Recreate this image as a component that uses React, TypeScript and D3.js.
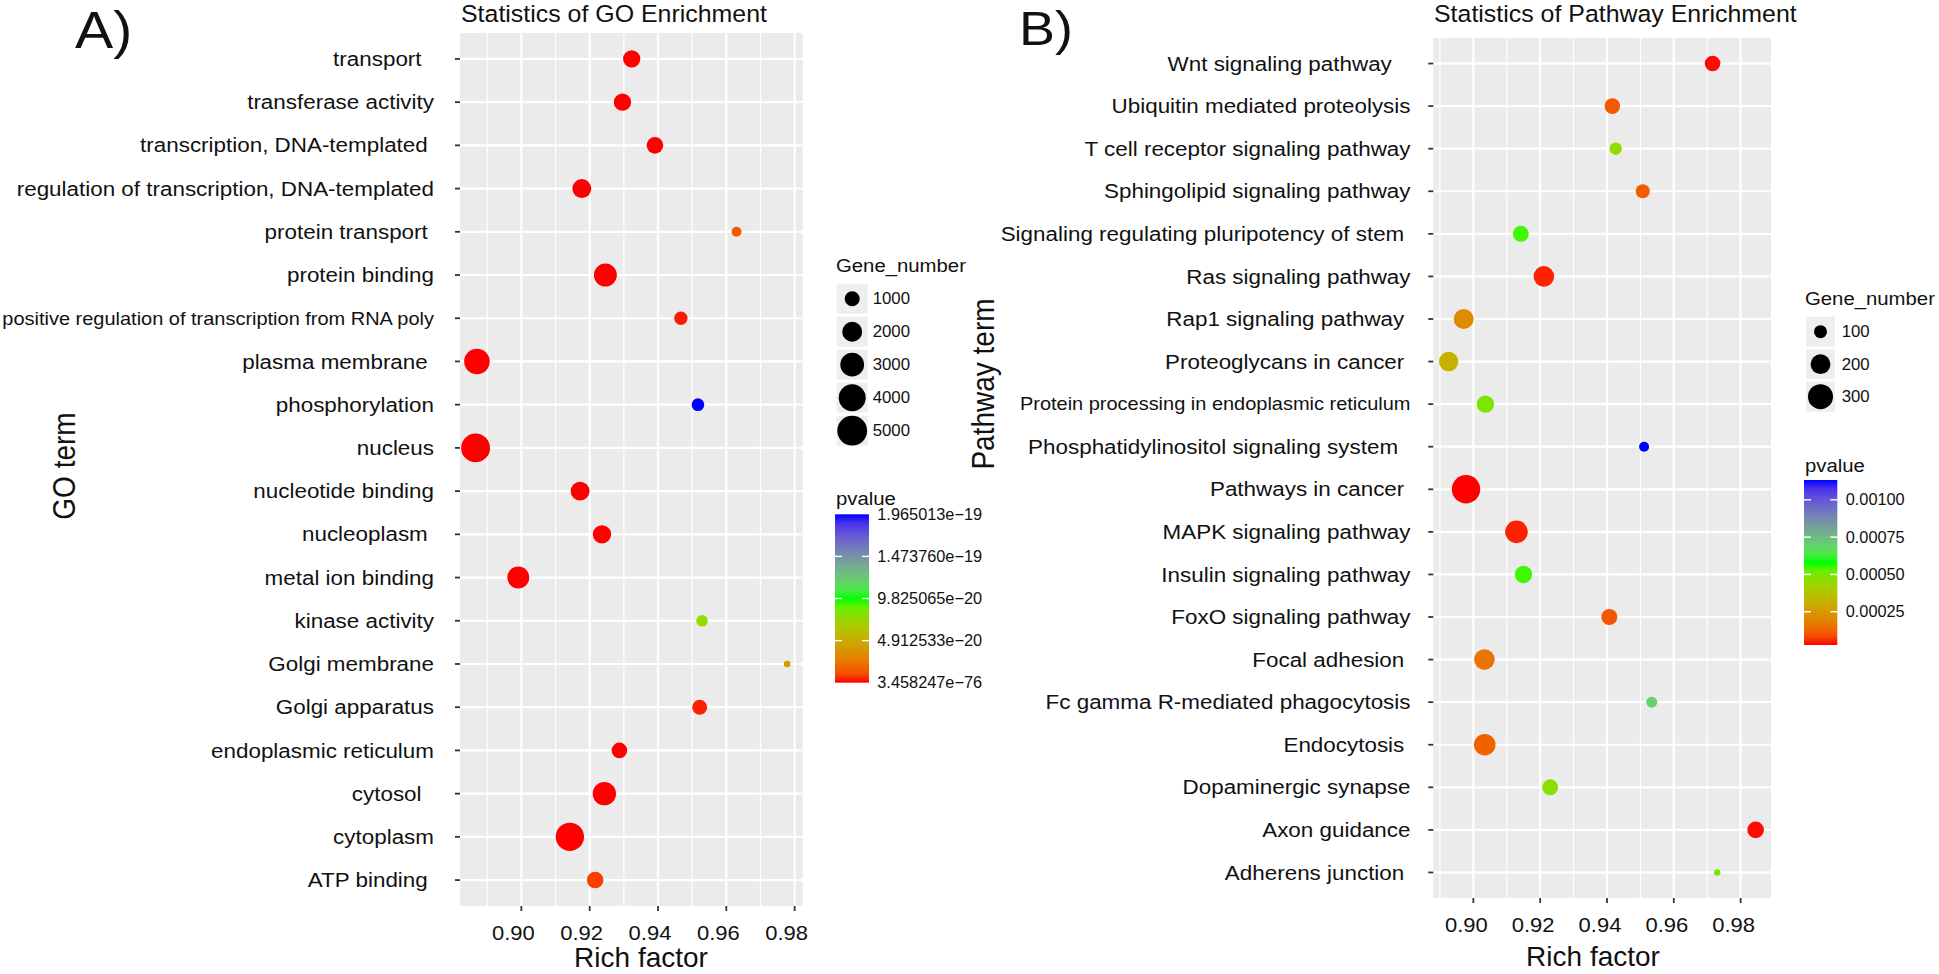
import React from 'react';
import * as d3 from 'd3';

// ---------------- Panel A: GO enrichment ----------------
const goTerms = [
  "transport  ", "transferase activity", "transcription, DNA-templated ",
  "regulation of transcription, DNA-templated", "protein transport ", "protein binding",
  "positive regulation of transcription from RNA poly", "plasma membrane ", "phosphorylation",
  "nucleus", "nucleotide binding", "nucleoplasm ", "metal ion binding", "kinase activity",
  "Golgi membrane", "Golgi apparatus", "endoplasmic reticulum", "cytosol  ", "cytoplasm", "ATP binding ",
];
const goRichFactor = [
  0.9323, 0.9296, 0.9391, 0.9177, 0.9630, 0.9246, 0.9467, 0.8870, 0.9517, 0.8866,
  0.9172, 0.9236, 0.8991, 0.9529, 0.9778, 0.9522, 0.9287, 0.9243, 0.9142, 0.9216,
];
const goGeneNumber = [
  1420, 1420, 1280, 1770, 340, 2770, 740, 3540, 640, 4680,
  1770, 1640, 2500, 520, 90, 1000, 1100, 2880, 4470, 1280,
];
const goPvalue = [
  1e-40, 1e-35, 1e-45, 1e-50, 1.4e-20, 1e-60, 1.5e-21, 1e-70, 1.965013e-19, 3.458247e-76,
  1e-50, 1e-45, 1e-55, 7.5e-20, 4.3e-20, 2e-21, 1e-30, 1e-60, 1e-70, 7e-21,
];
const goSizeBreaks = [1000, 2000, 3000, 4000, 5000];
const goPvalueRange = [3.458247e-76, 1.965013e-19];
const goPvalueBreaks = [3.458247e-76, 4.912533e-20, 9.825065e-20, 1.47376e-19, 1.965013e-19];
const goPvalueLabels = ["3.458247e\u221276", "4.912533e\u221220", "9.825065e\u221220", "1.473760e\u221219", "1.965013e\u221219"];

// ---------------- Panel B: Pathway enrichment ----------------
const pwTerms = [
  "Wnt signaling pathway   ", "Ubiquitin mediated proteolysis", "T cell receptor signaling pathway",
  "Sphingolipid signaling pathway", "Signaling regulating pluripotency of stem ", "Ras signaling pathway",
  "Rap1 signaling pathway ", "Proteoglycans in cancer ", "Protein processing in endoplasmic reticulum",
  "Phosphatidylinositol signaling system  ", "Pathways in cancer ", "MAPK signaling pathway",
  "Insulin signaling pathway", "FoxO signaling pathway", "Focal adhesion ",
  "Fc gamma R-mediated phagocytosis", "Endocytosis ", "Dopaminergic synapse", "Axon guidance", "Adherens junction ",
];
const pwRichFactor = [
  0.9716, 0.9416, 0.9426, 0.9507, 0.9142, 0.9211, 0.8971, 0.8926, 0.9036, 0.9511,
  0.8978, 0.9129, 0.9150, 0.9407, 0.9033, 0.9534, 0.9034, 0.9230, 0.9845, 0.9730,
];
const pwGeneNumber = [
  134, 134, 93, 113, 140, 214, 204, 193, 161, 67,
  376, 251, 161, 140, 214, 77, 232, 140, 149, 36,
];
const pwPvalue = [
  0.00003, 0.000105, 0.00045, 0.00011, 0.00056, 0.00004, 0.00021, 0.00032, 0.00049, 0.001133,
  0.000027, 0.00004, 0.00056, 0.0001, 0.00016, 0.00069, 0.00012, 0.00047, 0.00003, 0.0005,
];
const pwSizeBreaks = [100, 200, 300];
const pwPvalueRange = [0.000027, 0.001133];
const pwPvalueBreaks = [0.00025, 0.0005, 0.00075, 0.001];
const pwPvalueLabels = ["0.00025", "0.00050", "0.00075", "0.00100"];

const xTicks = [0.9, 0.92, 0.94, 0.96, 0.98];
const xTickLabels = ["0.90", "0.92", "0.94", "0.96", "0.98"];
const smallLabels = [
  "positive regulation of transcription from RNA poly",
  "Protein processing in endoplasmic reticulum",
];

const FONT = '"Liberation Sans", Arial, Helvetica, sans-serif';
const INK = '#111111';

function T({ x, y, size, anchor = 'start', sx = 1.1, rot = false, dy, children, fill = INK }: any) {
  const tr = rot
    ? `translate(${x},${y}) rotate(-90) scale(1,${sx})`
    : `translate(${x},${y}) scale(${sx},1)`;
  return (
    <text transform={tr} fontSize={size} textAnchor={anchor} fill={fill} fontFamily={FONT} dy={dy} style={{ whiteSpace: 'pre' }}>
      {children}
    </text>
  );
}

function Panel({ L, id, terms, rf, gn, pv, sizeDomain, sizeRange, pRange, sizeBreaks, pBreaks, pLabels }: any) {
  const [lo, hi] = d3.extent(rf as number[]) as [number, number];
  const pad = (hi - lo) * 0.05;
  const x = d3.scaleLinear().domain([lo - pad, hi + pad]).range([L.left, L.right]);
  const y = d3.scalePoint<string>().domain(terms).range([L.top, L.bottom]).padding(0.6);
  const r = d3.scaleSqrt().domain(sizeDomain).range(sizeRange);
  const color = d3
    .scaleLinear<string>()
    .domain([pRange[0], (pRange[0] + pRange[1]) / 2, pRange[1]])
    .range(['#FF0000', '#00FF00', '#0000FF'])
    .interpolate(d3.interpolateLab);
  const [d0, d1] = x.domain();
  const minor: number[] = [];
  for (let i = -1; i < xTicks.length; i++) {
    const m = i < 0 ? xTicks[0] - 0.01 : xTicks[i] + 0.01;
    if (m > d0 && m < d1) minor.push(m);
  }
  const majors = xTicks.filter((t) => t >= d0 && t <= d1);
  const barY = d3.scaleLinear().domain(pRange).range([L.barBottom, L.barTop]);
  const stops = d3.range(0, 21).map((k) => ({
    off: k / 20,
    c: color(pRange[0] + (k / 20) * (pRange[1] - pRange[0])),
  }));

  return (
    <g>
      <defs>
        <linearGradient id={id} x1="0" y1="1" x2="0" y2="0">
          {stops.map((s, i) => (
            <stop key={i} offset={s.off} stopColor={s.c} />
          ))}
        </linearGradient>
      </defs>
      {/* panel */}
      <rect x={L.left} y={L.top} width={L.right - L.left} height={L.bottom - L.top} fill="#EBEBEB" />
      {minor.map((m) => (
        <line key={'mi' + m} x1={x(m)} x2={x(m)} y1={L.top} y2={L.bottom} stroke="#FFFFFF" strokeWidth={1.2} />
      ))}
      {majors.map((m) => (
        <line key={'ma' + m} x1={x(m)} x2={x(m)} y1={L.top} y2={L.bottom} stroke="#FFFFFF" strokeWidth={2.2} />
      ))}
      {terms.map((t: string) => (
        <line key={'h' + t} x1={L.left} x2={L.right} y1={y(t)} y2={y(t)} stroke="#FFFFFF" strokeWidth={2.2} />
      ))}
      {/* points */}
      {terms.map((t: string, i: number) => (
        <circle key={'c' + t} cx={x(rf[i])} cy={y(t)} r={r(gn[i])} fill={color(pv[i])} />
      ))}
      {/* y axis */}
      {terms.map((t: string) => (
        <g key={'yl' + t}>
          <line x1={L.left - 5} x2={L.left} y1={y(t)} y2={y(t)} stroke="#333333" strokeWidth={1.8} />
          <T x={L.labelEnd} y={y(t)} size={smallLabels.includes(t) ? 18.0 : 20.2} sx={1.11} anchor="end" dy="0.35em">
            {t}
          </T>
        </g>
      ))}
      {/* x axis */}
      {majors.map((m) => (
        <g key={'xt' + m}>
          <line x1={x(m)} x2={x(m)} y1={L.bottom} y2={L.bottom + 5} stroke="#333333" strokeWidth={1.8} />
          <T x={x(m) + L.tickDx} y={L.bottom + 34} size={20} anchor="middle">
            {xTickLabels[xTicks.indexOf(m)]}
          </T>
        </g>
      ))}
      <T x={L.xTitleX} y={L.xTitleY} size={28} sx={1} anchor="middle">Rich factor</T>
      <T x={L.yTitleX} y={L.yTitleY} size={28} sx={1.12} rot anchor="middle">{L.yTitle}</T>
      <T x={L.titleX} y={L.titleY} size={23.3} sx={1.07}>{L.title}</T>
      <T x={L.letterX} y={L.letterY} size={L.letterSize} sx={1.1}>{L.letter}</T>

      {/* size legend */}
      <T x={L.lgX} y={L.geneTitleY} size={18} sx={1.13}>Gene_number</T>
      {sizeBreaks.map((b: number, i: number) => {
        const cy = L.keyStart + i * L.keyStep;
        return (
          <g key={'k' + b}>
            <rect x={L.keyX} y={cy - 15} width={L.keyW} height={30} fill="#EEEEEE" />
            <circle cx={L.keyX + L.keyW / 2} cy={cy} r={r(b)} fill="#000000" />
            <T x={L.keyLabelX} y={cy} size={16} sx={1.05} dy="0.35em">{String(b)}</T>
          </g>
        );
      })}

      {/* colour legend */}
      <T x={L.lgX} y={L.pTitleY} size={18} sx={1.13}>pvalue</T>
      <rect x={L.barX} y={L.barTop} width={L.barW} height={L.barBottom - L.barTop} fill={`url(#${id})`} />
      {pBreaks.map((b: number, i: number) => {
        const yy = barY(b);
        const inner = yy > L.barTop + 1 && yy < L.barBottom - 1;
        return (
          <g key={'p' + i}>
            {inner && (
              <>
                <line x1={L.barX} x2={L.barX + 7} y1={yy} y2={yy} stroke="#FFFFFF" strokeWidth={1.4} />
                <line x1={L.barX + L.barW - 7} x2={L.barX + L.barW} y1={yy} y2={yy} stroke="#FFFFFF" strokeWidth={1.4} />
              </>
            )}
            <T x={L.barLabelX} y={yy} size={16} sx={1.02} dy="0.35em">{pLabels[i]}</T>
          </g>
        );
      })}
    </g>
  );
}

const layoutA = {
  left: 460, right: 802.7, top: 33, bottom: 906, labelEnd: 434, tickDx: -8,
  xTitleX: 641, xTitleY: 967, yTitleX: 75, yTitleY: 466, yTitle: 'GO term',
  titleX: 461, titleY: 22, title: 'Statistics of GO Enrichment',
  letter: 'A)', letterX: 75, letterY: 48, letterSize: 52,
  lgX: 836, geneTitleY: 272, keyX: 836.7, keyW: 31, keyStart: 298.7, keyStep: 33, keyLabelX: 872.7,
  pTitleY: 505, barX: 835, barW: 34, barTop: 514.3, barBottom: 682.7, barLabelX: 877.3,
};
const layoutB = {
  left: 1433.3, right: 1771, top: 38, bottom: 898, labelEnd: 1410.5, tickDx: -7,
  xTitleX: 1593, xTitleY: 966, yTitleX: 994, yTitleY: 384, yTitle: 'Pathway term',
  titleX: 1434, titleY: 22, title: 'Statistics of Pathway Enrichment',
  letter: 'B)', letterX: 1019, letterY: 45, letterSize: 49,
  lgX: 1805, geneTitleY: 305, keyX: 1806, keyW: 29, keyStart: 331.7, keyStep: 32.5, keyLabelX: 1841.7,
  pTitleY: 471.7, barX: 1804, barW: 33.3, barTop: 480, barBottom: 645, barLabelX: 1845.7,
};

export default function App() {
  return (
    <svg
      width={1939}
      height={974}
      style={{ position: 'absolute', left: 0, top: 0, display: 'block', background: '#FFFFFF' }}
    >
      <rect x={0} y={0} width={1939} height={974} fill="#FFFFFF" />
      <Panel
        L={layoutA} id="gradA" terms={goTerms} rf={goRichFactor} gn={goGeneNumber} pv={goPvalue}
        sizeDomain={[1000, 5000]} sizeRange={[7.5, 14.9]} pRange={goPvalueRange}
        sizeBreaks={goSizeBreaks} pBreaks={goPvalueBreaks} pLabels={goPvalueLabels}
      />
      <Panel
        L={layoutB} id="gradB" terms={pwTerms} rf={pwRichFactor} gn={pwGeneNumber} pv={pwPvalue}
        sizeDomain={[100, 300]} sizeRange={[6.5, 12.5]} pRange={pwPvalueRange}
        sizeBreaks={pwSizeBreaks} pBreaks={pwPvalueBreaks} pLabels={pwPvalueLabels}
      />
    </svg>
  );
}
